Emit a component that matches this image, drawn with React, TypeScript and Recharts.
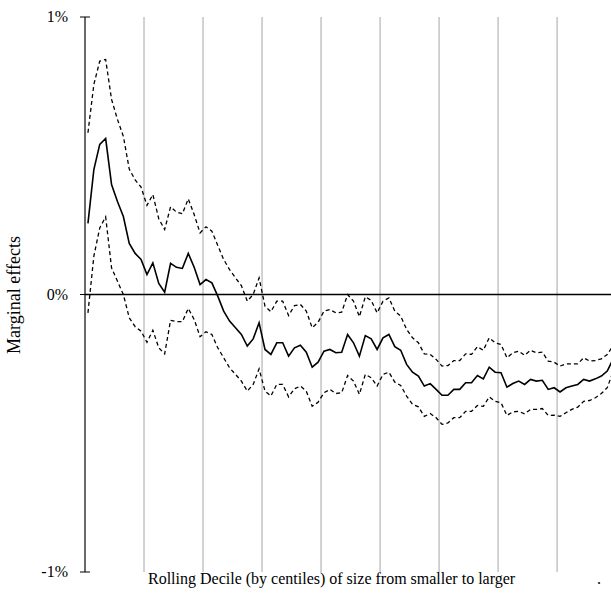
import React from 'react';
import { LineChart, Line, XAxis, YAxis, CartesianGrid, ReferenceLine } from 'recharts';

// rolling deciles by centiles, marginal effect in percent
const estimate = [
  0.256, 0.450, 0.541, 0.562, 0.396, 0.335, 0.281, 0.184, 0.148, 0.126,
  0.072, 0.114, 0.040, 0.008, 0.112, 0.098, 0.094, 0.148, 0.098, 0.036,
  0.054, 0.042, -0.006, -0.060, -0.096, -0.120, -0.144, -0.186, -0.160, -0.102,
  -0.198, -0.216, -0.174, -0.174, -0.222, -0.192, -0.183, -0.208, -0.262, -0.244,
  -0.204, -0.198, -0.210, -0.208, -0.144, -0.174, -0.222, -0.148, -0.160, -0.198,
  -0.156, -0.144, -0.188, -0.201, -0.252, -0.280, -0.294, -0.330, -0.321, -0.342,
  -0.363, -0.363, -0.342, -0.342, -0.318, -0.318, -0.292, -0.304, -0.262, -0.280,
  -0.282, -0.334, -0.321, -0.312, -0.324, -0.306, -0.312, -0.309, -0.342, -0.336,
  -0.351, -0.336, -0.330, -0.324, -0.306, -0.312, -0.304, -0.294, -0.276, -0.232,
];

const upperBound = [
  0.583, 0.757, 0.841, 0.847, 0.703, 0.631, 0.570, 0.452, 0.413, 0.387,
  0.321, 0.360, 0.273, 0.234, 0.316, 0.297, 0.291, 0.345, 0.288, 0.222,
  0.244, 0.228, 0.177, 0.126, 0.090, 0.060, 0.032, -0.024, 0.000, 0.060,
  -0.042, -0.062, -0.024, -0.024, -0.076, -0.040, -0.036, -0.060, -0.120, -0.100,
  -0.060, -0.054, -0.066, -0.064, 0.000, -0.024, -0.080, -0.008, -0.021, -0.066,
  -0.024, -0.012, -0.060, -0.078, -0.126, -0.156, -0.174, -0.214, -0.216, -0.234,
  -0.258, -0.256, -0.238, -0.238, -0.214, -0.216, -0.188, -0.201, -0.156, -0.174,
  -0.180, -0.228, -0.210, -0.204, -0.219, -0.201, -0.210, -0.208, -0.240, -0.244,
  -0.258, -0.250, -0.250, -0.250, -0.228, -0.240, -0.238, -0.232, -0.216, -0.184,
];

const lowerBound = [
  -0.066, 0.138, 0.240, 0.280, 0.096, 0.048, 0.000, -0.084, -0.116, -0.132,
  -0.172, -0.129, -0.192, -0.214, -0.093, -0.098, -0.098, -0.050, -0.090, -0.152,
  -0.134, -0.144, -0.192, -0.228, -0.264, -0.288, -0.312, -0.348, -0.324, -0.268,
  -0.348, -0.366, -0.324, -0.324, -0.369, -0.340, -0.330, -0.348, -0.403, -0.388,
  -0.354, -0.342, -0.357, -0.354, -0.292, -0.312, -0.360, -0.288, -0.300, -0.330,
  -0.288, -0.280, -0.316, -0.328, -0.366, -0.396, -0.405, -0.439, -0.429, -0.444,
  -0.468, -0.463, -0.444, -0.444, -0.421, -0.421, -0.400, -0.403, -0.369, -0.385,
  -0.390, -0.436, -0.423, -0.421, -0.430, -0.414, -0.414, -0.411, -0.436, -0.435,
  -0.439, -0.426, -0.414, -0.406, -0.385, -0.382, -0.372, -0.357, -0.336, -0.277,
];

const yTicks = [-1, 0, 1];
const xTicks = [0, 10, 20, 30, 40, 50, 60, 70, 80, 90];
const xTitle = 'Rolling Decile (by centiles) of size from smaller to larger';
const yTitle = 'Marginal effects';

const AXIS_X = 85;
const FONT = '"Liberation Serif", "Times New Roman", serif';

const chartData = estimate.map((v, i) => ({
  x: i + 0.5,
  estimate: v,
  upper: upperBound[i],
  lower: lowerBound[i],
}));

const YTick: React.FC<any> = ({ y, payload }) => (
  <g>
    <line x1={AXIS_X - 5} x2={AXIS_X + 5} y1={y} y2={y} stroke="#000" strokeWidth={1} />
    <text x={AXIS_X - 17} y={y} dy={5} textAnchor="end" fontSize={16} fontFamily={FONT} fill="#000">
      {`${payload.value}%`}
    </text>
  </g>
);

// x categories carry no labels, only the gridlines
const EmptyTick: React.FC<any> = () => <g />;

const XTitle: React.FC<any> = () => (
  <g>
    <text x={148} y={584} fontSize={16} fontFamily={FONT} fill="#000">{xTitle}</text>
    <text x={597} y={584} fontSize={16} fontFamily={FONT} fill="#000">.</text>
  </g>
);

const YTitle: React.FC<any> = () => (
  <text
    x={20}
    y={295}
    transform="rotate(-90 20 295)"
    textAnchor="middle"
    fontSize={18}
    fontFamily={FONT}
    fill="#000"
  >
    {yTitle}
  </text>
);

const App: React.FC = () => (
  <div style={{ position: 'fixed', left: 0, top: 0, width: 611, height: 611, overflow: 'hidden', background: '#fff' }}>
    <LineChart width={622} height={611} data={chartData} margin={{ top: 17, right: 0, bottom: 0, left: 0 }}>
      <CartesianGrid horizontal={false} vertical stroke="#a6a6a6" strokeWidth={1} />
      <XAxis
        dataKey="x"
        type="number"
        domain={[0, 91]}
        ticks={xTicks}
        interval={0}
        tick={<EmptyTick />}
        tickLine={false}
        axisLine={false}
        height={39}
        label={<XTitle />}
      />
      <YAxis
        type="number"
        domain={[-1, 1]}
        ticks={yTicks}
        width={AXIS_X}
        tickLine={false}
        axisLine={{ stroke: '#000', strokeWidth: 1 }}
        tick={<YTick />}
        label={<YTitle />}
      />
      <ReferenceLine y={0} stroke="#000" strokeWidth={1.3} />
      <Line type="linear" dataKey="upper" stroke="#000" strokeWidth={1.3} strokeDasharray="4 3" dot={false} isAnimationActive={false} />
      <Line type="linear" dataKey="lower" stroke="#000" strokeWidth={1.3} strokeDasharray="4 3" dot={false} isAnimationActive={false} />
      <Line type="linear" dataKey="estimate" stroke="#000" strokeWidth={1.6} dot={false} isAnimationActive={false} />
    </LineChart>
  </div>
);

export default App;
